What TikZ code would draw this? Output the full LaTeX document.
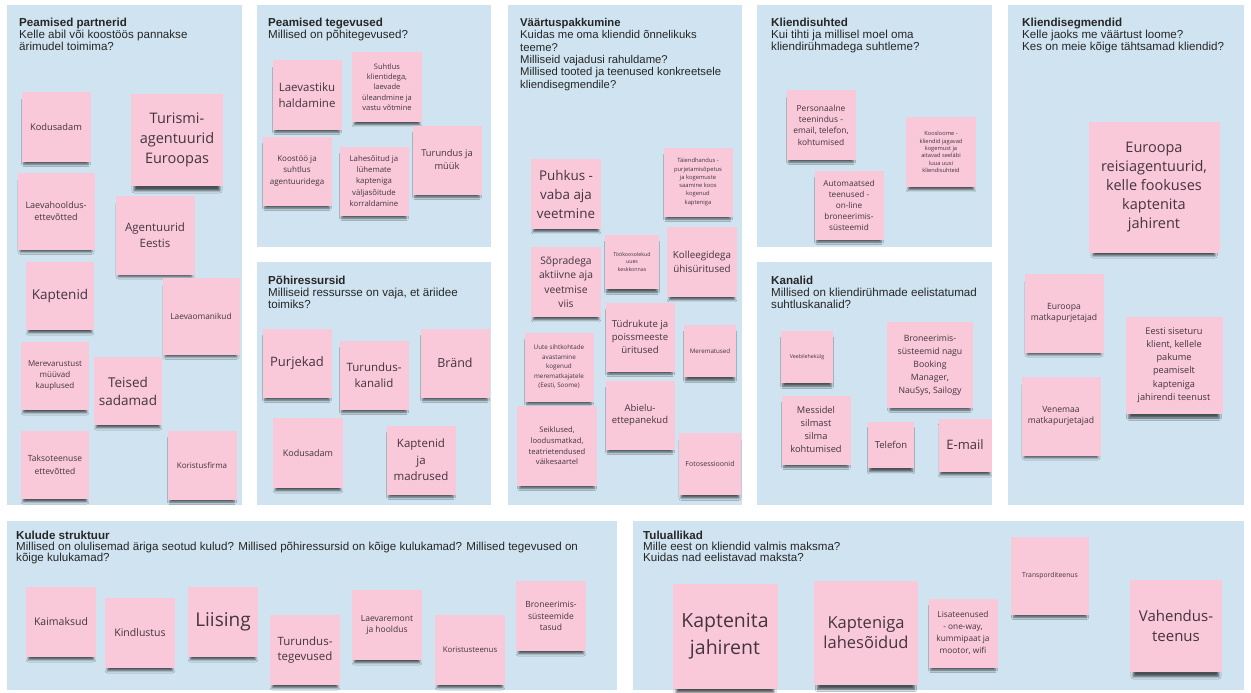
\documentclass[tikz,border=0pt]{standalone}
\usepackage{fontspec}
\usepackage{xcolor}
\usepackage{tikz}
\usetikzlibrary{shadows.blur}
\setmainfont{Liberation Sans}
\newfontfamily\notefont{Open Sans}
\definecolor{panelblue}{RGB}{207,228,240}
\definecolor{notepink}{RGB}{249,201,218}
\definecolor{notetext}{RGB}{68,52,62}
\definecolor{headtext}{RGB}{38,38,38}
\def\notesize{69}
\def\headsize{11.6}

\begin{document}
\begin{tikzpicture}[x=1pt, y=-1pt,
		panel/.style={fill=panelblue},
		head/.style={anchor=north west, align=left, inner sep=0pt, text=headtext,
			font=\fontsize{\headsize}{11.8}\selectfont},
		notebase/.style={fill=notepink, text=notetext, align=center, inner sep=1pt,
			minimum width=\notesize, minimum height=\notesize},
		shade/.style={blur shadow={shadow xshift=0pt, shadow yshift=#1, shadow scale=0.93,
				shadow opacity=65, shadow blur radius=2.5pt}},
		note/.style={notebase, shade=-5.5pt},
		bignote/.style={notebase, shade=-8.5pt},
		sz/.style={minimum width=#1, minimum height=#1},
		fs/.style 2 args={font=\notefont\fontsize{#1}{#2}\selectfont}]
	\useasboundingbox (0,0) rectangle (1251,693);
	\fill[white] (0,0) rectangle (1251,693);

	% canvas panels
	\path[panel] (7,5) rectangle (242,505);
	\path[panel] (257,5) rectangle (491,247);
	\path[panel] (257,262) rectangle (491,505);
	\path[panel] (508,5) rectangle (742,505);
	\path[panel] (757,5) rectangle (992,247);
	\path[panel] (757,262) rectangle (992,505);
	\path[panel] (1008,5) rectangle (1244,505);
	\path[panel] (7,521) rectangle (617,690);
	\path[panel] (633,521) rectangle (1244,690);

	\node[head] (h-partnerid) at (19,18) {\textbf{Peamised partnerid}\\Kelle abil või koostöös pannakse\\ärimudel toimima?};
	\node[head] (h-tegevused) at (268,18) {\textbf{Peamised tegevused}\\Millised on põhitegevused?};
	\node[head] (h-ressursid) at (268,276) {\textbf{Põhiressursid}\\Milliseid ressursse on vaja, et äriidee\\toimiks?};
	\node[head, font=\fontsize{11.3}{12.4}\selectfont] (h-vaartus) at (520,18) {\textbf{Väärtuspakkumine}\\Kuidas me oma kliendid õnnelikuks\\teeme?\\Milliseid vajadusi rahuldame?\\Millised tooted ja teenused konkreetsele\\kliendisegmendile?};
	\node[head] (h-suhted) at (771,18) {\textbf{Kliendisuhted}\\Kui tihti ja millisel moel oma\\kliendirühmadega suhtleme?};
	\node[head] (h-kanalid) at (771,276) {\textbf{Kanalid}\\Millised on kliendirühmade eelistatumad\\suhtluskanalid?};
	\node[head, font=\fontsize{\headsize}{10.8}\selectfont] (h-segmendid) at (1022,18) {\textbf{Kliendisegmendid}\\Kelle jaoks me väärtust loome?\\Kes on meie kõige tähtsamad kliendid?};
	\node[head, font=\fontsize{\headsize}{11}\selectfont] (h-kulud) at (16,531) {\textbf{Kulude struktuur}\\Millised on olulisemad äriga seotud kulud? Millised põhiressursid on kõige kulukamad? Millised tegevused on\\kõige kulukamad?};
	\node[head, font=\fontsize{\headsize}{11}\selectfont] (h-tulud) at (643,531) {\textbf{Tuluallikad}\\Mille eest on kliendid valmis maksma?\\Kuidas nad eelistavad maksta?};

	% peamised partnerid
	\node[note, fs={9.3}{12}] (pp-kodusadam) at (56,127) {Kodusadam};
	\node[bignote, sz=92, fs={14.5}{20}] (pp-turismi) at (177,140) {Turismi-\\agentuurid\\Euroopas};
	\node[note, sz=77, fs={9}{12}] (pp-hooldus) at (56,211) {Laevahooldus-\\ettevõtted};
	\node[note, sz=79, fs={11.5}{16}] (pp-agentuurid) at (155,235) {Agentuurid\\Eestis};
	\node[note, sz=68, fs={13.5}{18}] (pp-kaptenid) at (60,296) {Kaptenid};
	\node[note, sz=77, fs={8.3}{11}] (pp-omanikud) at (201,316) {Laevaomanikud};
	\node[note, sz=68, fs={8}{11}] (pp-kauplused) at (55,376) {Merevarustust\\müüvad\\kauplused};
	\node[note, sz=68, fs={13.5}{18}] (pp-sadamad) at (128,391) {Teised\\sadamad};
	\node[note, sz=68, fs={8.5}{12.5}] (pp-takso) at (55,465) {Taksoteenuse\\ettevõtted};
	\node[note, fs={8}{11}] (pp-koristus) at (202,465) {Koristusfirma};

	% peamised tegevused
	\node[note, fs={11.5}{15.5}] (pt-laevastik) at (307,95) {Laevastiku\\haldamine};
	\node[note, sz=70, fs={7.5}{10.3}] (pt-suhtlus) at (387,87) {Suhtlus\\klientidega,\\laevade\\üleandmine ja\\vastu võtmine};
	\node[note, fs={8}{11.5}] (pt-koostoo) at (297,171) {Koostöö ja\\suhtlus\\agentuuridega};
	\node[note, fs={7.8}{11.3}] (pt-lahesoidud) at (374,181) {Lahesõitud ja\\lühemate\\kapteniga\\väljasõitude\\korraldamine};
	\node[note, fs={9.3}{13}] (pt-turundus) at (447,160) {Turundus ja\\müük};

	% pohiressursid
	\node[note, fs={13}{18}] (pr-purjekad) at (297,363) {Purjekad};
	\node[note, fs={11.5}{16.5}] (pr-kanalid) at (374,375) {Turundus-\\kanalid};
	\node[note, fs={12.5}{17}] (pr-brand) at (455,363) {Bränd};
	\node[note, sz=70, fs={9}{12}] (pr-kodusadam) at (308,453) {Kodusadam};
	\node[note, fs={11.5}{16.5}] (pr-kaptenid) at (421,460) {Kaptenid\\ja\\madrused};

	% vaartuspakkumine
	\node[note, sz=70, fs={13.4}{19}] (vp-puhkus) at (566,194) {Puhkus -\\vaba aja\\veetmine};
	\node[note, fs={5.8}{8.3}] (vp-taiendus) at (698,182) {Täiendhandus -\\purjetamisõpetus\\ja kogemuste\\saamine koos\\kogenud\\kapteniga};
	\node[note, sz=70, fs={10.3}{14.5}] (vp-sopradega) at (566,282) {Sõpradega\\aktiivne aja\\veetmise\\viis};
	\node[note, sz=54, fs={5.3}{7.5}] (vp-tookoosolekud) at (632,262) {Töökoosolekud\\uues\\keskkonnas};
	\node[note, sz=70, fs={9.8}{13.5}] (vp-kolleegid) at (702,262) {Kolleegidega\\ühisüritused};
	\node[note, fs={9.6}{13}] (vp-tudrukud) at (640,337) {Tüdrukute ja\\poissmeeste\\üritused};
	\node[note, fs={6.3}{9.5}] (vp-uute) at (559,367) {Uute sihtkohtade\\avastamine\\kogenud\\merematkajatele\\(Eesti, Soome)};
	\node[note, sz=52, fs={6.2}{8}] (vp-merematused) at (710,351) {Merematused};
	\node[note, fs={9.5}{12.5}] (vp-abielu) at (640,415) {Abielu-\\ettepanekud};
	\node[note, sz=80, fs={7.6}{10.7}] (vp-seiklused) at (557,446) {Seiklused,\\loodusmatkad,\\teatrietendused\\väikesaartel};
	\node[note, sz=62, fs={7}{9}] (vp-foto) at (710,464) {Fotosessioonid};

	% kliendisuhted
	\node[note, fs={8.4}{11.3}] (ks-personaalne) at (821,125) {Personaalne\\teenindus -\\email, telefon,\\kohtumised};
	\node[note, sz=70, fs={5.7}{7.4}] (ks-koosloome) at (941,152) {Koosloome -\\kliendid jagavad\\kogemust ja\\aitavad seeläbi\\luua uusi\\kliendisuhteid};
	\node[note, fs={8.2}{11}] (ks-automaatsed) at (849,205) {Automaatsed\\teenused -\\on-line\\broneerimis-\\süsteemid};

	% kanalid
	\node[note, sz=52, fs={5.3}{7}] (ka-veeb) at (807,357) {Veebilehekülg};
	\node[note, sz=86, fs={8.7}{13}] (ka-broneerimis) at (930,365) {Broneerimis-\\süsteemid nagu\\Booking\\Manager,\\NauSys, Sailogy};
	\node[note, fs={9.3}{13}] (ka-messidel) at (816,430) {Messidel\\silmast\\silma\\kohtumised};
	\node[note, sz=46, fs={9.5}{12}] (ka-telefon) at (891,445) {Telefon};
	\node[note, sz=53, fs={13}{16}] (ka-email) at (965,445) {E-mail};

	% kliendisegmendid
	\node[bignote, sz=131, fs={14.5}{19}] (seg-reisiagentuurid) at (1154,187) {Euroopa\\reisiagentuurid,\\kelle fookuses\\kaptenita\\jahirent};
	\node[note, sz=79, fs={8.6}{11.7}] (seg-euroopa) at (1064,313) {Euroopa\\matkapurjetajad};
	\node[bignote, sz=97, fs={9.2}{13.3}] (seg-eesti) at (1174,365) {Eesti siseturu\\klient, kellele\\pakume\\peamiselt\\kapteniga\\jahirendi teenust};
	\node[note, sz=79, fs={8.6}{11.7}] (seg-venemaa) at (1061,416) {Venemaa\\matkapurjetajad};

	% kulude struktuur
	\node[note, sz=70, fs={10.5}{14}] (kulu-kaimaksud) at (61,622) {Kaimaksud};
	\node[note, sz=70, fs={10.5}{14}] (kulu-kindlustus) at (140,633) {Kindlustus};
	\node[note, sz=70, fs={19}{24}] (kulu-liising) at (223,622) {Liising};
	\node[note, sz=70, fs={11.5}{15.7}] (kulu-turundus) at (305,650) {Turundus-\\tegevused};
	\node[note, sz=70, fs={8.5}{11}] (kulu-laevaremont) at (387,625) {Laevaremont\\ja hooldus};
	\node[note, sz=70, fs={7.8}{10}] (kulu-koristus) at (470,650) {Koristusteenus};
	\node[note, sz=70, fs={8.5}{11.5}] (kulu-broneerimis) at (551,616) {Broneerimis-\\süsteemide\\tasud};

	% tuluallikad
	\node[bignote, sz=105, fs={19.5}{27}] (tulu-kaptenita) at (725,636) {Kaptenita\\jahirent};
	\node[bignote, sz=104, fs={16.5}{20}] (tulu-kapteniga) at (866,633) {Kapteniga\\lahesõidud};
	\node[note, fs={8.3}{12}] (tulu-lisateenused) at (963,633) {Lisateenused\\- one-way,\\kummipaat ja\\mootor, wifi};
	\node[note, sz=78, fs={6.8}{9}] (tulu-transport) at (1050,576) {Transporditeenus};
	\node[bignote, sz=92, fs={15}{19.5}] (tulu-vahendus) at (1176,626) {Vahendus-\\teenus};
\end{tikzpicture}
\end{document}
